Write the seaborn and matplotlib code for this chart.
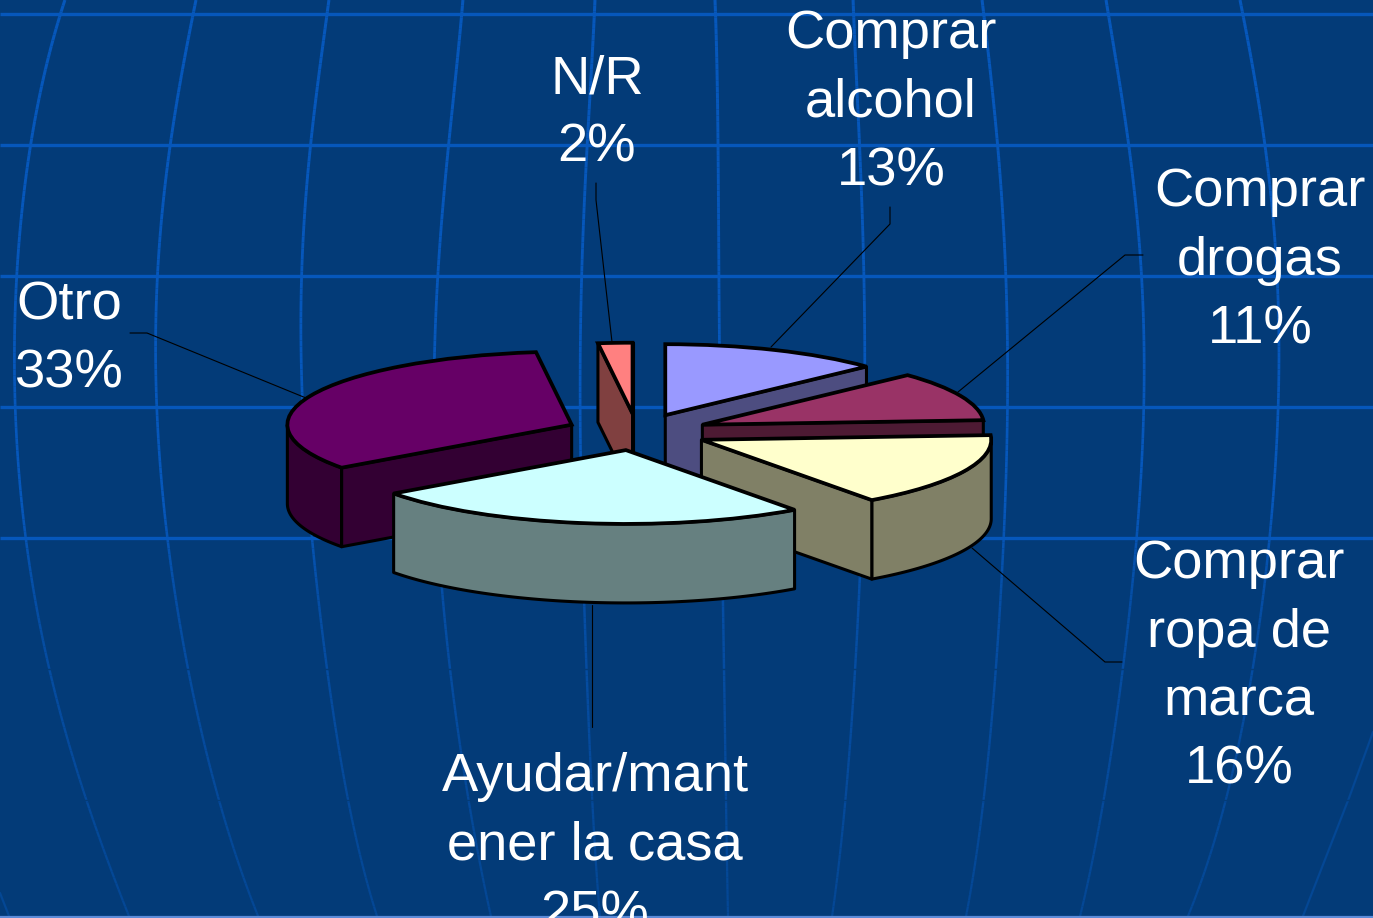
import numpy as np
import matplotlib
matplotlib.use("Agg")
import matplotlib.pyplot as plt
from matplotlib.collections import LineCollection
from matplotlib.colors import to_rgb
import seaborn as sns

# ---- chart data (clockwise from 12 o'clock) ----
categories = ["Comprar alcohol", "Comprar drogas", "Comprar ropa de marca",
              "Ayudar/mantener la casa", "Otro", "N/R"]
values = [13, 11, 16, 25, 33, 2]
slice_colors = ["#9999FF", "#993366", "#FFFFCC", "#CCFFFF", "#660066", "#FF8080"]
radius_factor = [1.0, 1.02, 1.05, 1.04, 1.03, 1.0]
paint_rank = [1, 2, 3, 5, 4, 0]

label_lines = [
    ["Comprar", "alcohol", "13%"],
    ["Comprar", "drogas", "11%"],
    ["Comprar", "ropa de", "marca", "16%"],
    ["Ayudar/mant", "ener la casa", "25%"],
    ["Otro", "33%"],
    ["N/R", "2%"],
]
label_x = [891, 1260, 1239, 595, 69, 597]
label_first_baseline = [48, 206, 578, 791, 319, 93]
LINE_STEP = 68.6

leader_x = [[890, 890, 771], [1143, 1125, 958], [1122, 1105, 972],
            [592, 592], [130, 147, 306], [596, 596, 612]]
leader_y = [[207, 224, 347], [255, 255, 392], [662, 662, 548],
            [605, 727], [333, 333, 398], [183, 200, 342]]

# ---- background globe ----
BG = "#033B78"
GRID = "#0657BB"
horizontals = [14, 145, 276, 407, 538]
merid_y = [0, 145, 276, 407, 538, 670, 800, 916]
meridians = [
    [65, 30, 18, 14, 26, 50, 86, 129],
    [196, 170, 158, 156, 168, 188, 219, 258],
    [329, 310, 303, 301, 313, 327, 348, 377],
    [463, 448, 439, 433, 438, 451, 468, 491],
    [595, 587, 582, 580, 582, 587, 592, 600],
    [715, 718, 719, 720, 722, 724, 726, 728],
    [853, 860, 863, 865, 862, 854, 846, 832],
    [982, 998, 1005, 1008, 1004, 995, 984, 966],
    [1106, 1129, 1141, 1144, 1137, 1122, 1104, 1080],
    [1240, 1265, 1277, 1278, 1270, 1252, 1226, 1188],
]
corner_right_x = [1373, 1349, 1303]
corner_right_y = [732, 798, 916]
corner_left_x = [0, 9]
corner_left_y = [893, 916]
gap_rows = [669, 800]

sns.set_theme(style="white")
plt.rcParams["font.family"] = ["Liberation Sans", "DejaVu Sans"]

fig = plt.figure(figsize=(13.73, 9.18), dpi=100, facecolor=BG)

# --- pixel-space background axes
ax0 = fig.add_axes([0, 0, 1, 1], zorder=0)
ax0.set_xlim(0, 1373)
ax0.set_ylim(918, 0)
ax0.set_facecolor(BG)
ax0.set_axis_off()

bg_rgb = np.array(to_rgb(BG))
grid_rgb = np.array(to_rgb(GRID))
ys = np.linspace(0, 918, 160)
for mx in meridians:
    coef = np.polyfit(merid_y, mx, 5)
    xs = np.polyval(coef, ys)
    pts = np.column_stack([xs, ys])
    segs = np.stack([pts[:-1], pts[1:]], axis=1)
    mids = 0.5 * (ys[:-1] + ys[1:])
    strength = np.interp(mids, [0, 500, 600, 918], [1.0, 1.0, 0.66, 0.42])
    cols = [tuple(bg_rgb + (grid_rgb - bg_rgb) * s) for s in strength]
    widths = np.interp(mids, [0, 918], [2.2, 1.6])
    ax0.add_collection(LineCollection(segs, colors=cols, linewidths=widths, zorder=1))

corner_col = bg_rgb + (grid_rgb - bg_rgb) * 0.42
ax0.plot(corner_left_x, corner_left_y, color=corner_col, lw=1.6, zorder=1)
ax0.plot(corner_right_x, corner_right_y, color=corner_col, lw=1.6, zorder=1)
ax0.hlines(gap_rows, 0, 1373, color=BG, lw=1.0, zorder=2)
ax0.hlines(horizontals, 0, 1373, color=GRID, lw=2.4, zorder=3)
ax0.hlines([917], 0, 1373, color="#5C8BD8", lw=1.6, zorder=3)

for lx, ly in zip(leader_x, leader_y):
    ax0.plot(lx, ly, color="black", lw=0.8, zorder=4, solid_joinstyle="miter")

for lines, x, base in zip(label_lines, label_x, label_first_baseline):
    for i, line in enumerate(lines):
        ax0.text(x, base + i * LINE_STEP, line, color="white", fontsize=39.2,
                 ha="center", va="baseline", zorder=5)

# --- squashed pie axes: 1 pie unit = 276 px across, 71 px down
CX, CY, RX, RY, DEPTH = 637, 432, 276, 71, 79
ax = fig.add_axes([0, 0, 1, 1], zorder=1)
wedges, _ = ax.pie(values, startangle=90, counterclock=False,
                   explode=[0.258] * len(values), colors=slice_colors,
                   wedgeprops=dict(edgecolor="black", linewidth=2.7, joinstyle="miter"))
ax.set_aspect("auto")
ax.patch.set_alpha(0)
ax.set_axis_off()

d = DEPTH / RY
edge_kw = dict(edgecolor="black", linewidth=2.2, joinstyle="round")
for w, color, fac, rank in zip(wedges, slice_colors, radius_factor, paint_rank):
    w.set_radius(fac)
    w.set_zorder(rank * 10 + 5)
    (cx, cy), r = w.center, w.r
    t1, t2 = w.theta1, w.theta2
    shade = tuple(np.array(to_rgb(color)) * 0.5)

    # outer curved wall: only the part that faces the viewer
    a, b = max(t1, -180), min(t2, 0)
    if b > a:
        phi = np.radians(np.linspace(a, b, 80))
        px, py = cx + r * np.cos(phi), cy + r * np.sin(phi)
        ax.fill(np.r_[px, px[::-1]], np.r_[py, py[::-1] - d], facecolor=shade,
                zorder=rank * 10 + 1, **edge_kw)

    # flat radial walls that face the viewer
    for ang, faces in ((t1, np.cos(np.radians(t1)) > 0), (t2, np.cos(np.radians(t2)) < 0)):
        if faces:
            ex, ey = cx + r * np.cos(np.radians(ang)), cy + r * np.sin(np.radians(ang))
            ax.fill([cx, ex, ex, cx], [cy, ey, ey - d, cy - d], facecolor=shade,
                    zorder=rank * 10 + 2, **edge_kw)

ax.set_xlim(-CX / RX, (1373 - CX) / RX)
ax.set_ylim((CY - 918) / RY, CY / RY)

fig.savefig("out.png", dpi=100, facecolor=BG)
